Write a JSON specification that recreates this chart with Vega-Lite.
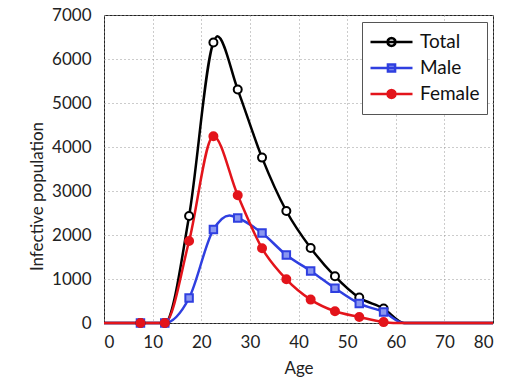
{
  "$schema": "https://vega.github.io/schema/vega-lite/v6.json",
  "width": 389,
  "height": 308,
  "autosize": "none",
  "padding": {"left": 104, "top": 15, "right": 24, "bottom": 54},
  "background": "white",
  "config": {
    "font": "Lato",
    "view": {"stroke": "#222", "strokeWidth": 1}
  },
  "data": {
    "values": [
      {"series": "Total", "age": 0, "value": 0, "marker": false},
      {"series": "Total", "age": 7.5, "value": 0, "marker": true},
      {"series": "Total", "age": 12.5, "value": 0, "marker": true},
      {"series": "Total", "age": 17.5, "value": 2432, "marker": true},
      {"series": "Total", "age": 22.5, "value": 6373, "marker": true},
      {"series": "Total", "age": 23.3, "value": 6516, "marker": false},
      {"series": "Total", "age": 27.5, "value": 5305, "marker": true},
      {"series": "Total", "age": 32.5, "value": 3759, "marker": true},
      {"series": "Total", "age": 37.5, "value": 2545, "marker": true},
      {"series": "Total", "age": 42.5, "value": 1705, "marker": true},
      {"series": "Total", "age": 47.5, "value": 1061, "marker": true},
      {"series": "Total", "age": 52.5, "value": 577, "marker": true},
      {"series": "Total", "age": 57.5, "value": 327, "marker": true},
      {"series": "Total", "age": 61.7, "value": 0, "marker": false},
      {"series": "Total", "age": 80, "value": 0, "marker": false},
      {"series": "Male", "age": 0, "value": 0, "marker": false},
      {"series": "Male", "age": 7.5, "value": 0, "marker": true},
      {"series": "Male", "age": 12.5, "value": 0, "marker": true},
      {"series": "Male", "age": 17.5, "value": 568, "marker": true},
      {"series": "Male", "age": 22.5, "value": 2123, "marker": true},
      {"series": "Male", "age": 25.8, "value": 2445, "marker": false},
      {"series": "Male", "age": 27.5, "value": 2386, "marker": true},
      {"series": "Male", "age": 32.5, "value": 2045, "marker": true},
      {"series": "Male", "age": 37.5, "value": 1545, "marker": true},
      {"series": "Male", "age": 42.5, "value": 1182, "marker": true},
      {"series": "Male", "age": 47.5, "value": 789, "marker": true},
      {"series": "Male", "age": 52.5, "value": 441, "marker": true},
      {"series": "Male", "age": 57.5, "value": 250, "marker": true},
      {"series": "Male", "age": 61.7, "value": 0, "marker": false},
      {"series": "Male", "age": 80, "value": 0, "marker": false},
      {"series": "Female", "age": 0, "value": 0, "marker": false},
      {"series": "Female", "age": 7.5, "value": 0, "marker": true},
      {"series": "Female", "age": 12.5, "value": 0, "marker": true},
      {"series": "Female", "age": 17.5, "value": 1864, "marker": true},
      {"series": "Female", "age": 22.5, "value": 4243, "marker": true},
      {"series": "Female", "age": 27.5, "value": 2902, "marker": true},
      {"series": "Female", "age": 32.5, "value": 1698, "marker": true},
      {"series": "Female", "age": 37.5, "value": 993, "marker": true},
      {"series": "Female", "age": 42.5, "value": 532, "marker": true},
      {"series": "Female", "age": 47.5, "value": 266, "marker": true},
      {"series": "Female", "age": 52.5, "value": 136, "marker": true},
      {"series": "Female", "age": 57.5, "value": 20, "marker": true},
      {"series": "Female", "age": 59.5, "value": 0, "marker": false},
      {"series": "Female", "age": 80, "value": 0, "marker": false}
    ]
  },
  "encoding": {
    "x": {
      "field": "age", "type": "quantitative",
      "scale": {"domain": [0, 80], "nice": false, "zero": false},
      "axis": {
        "title": "Age", "values": [0, 10, 20, 30, 40, 50, 60, 70, 80], "format": "d",
        "grid": true, "gridDash": [1, 3], "gridColor": "#999", "gridWidth": 1,
        "domain": false, "ticks": false,
        "labelFontSize": 17, "labelColor": "#222", "labelPadding": 11,
        "titleFontSize": 17, "titleFontWeight": "normal", "titleColor": "#222", "titlePadding": 10
      }
    },
    "y": {
      "field": "value", "type": "quantitative",
      "scale": {"domain": [0, 7000], "nice": false},
      "axis": {
        "title": "Infective population", "values": [0, 1000, 2000, 3000, 4000, 5000, 6000, 7000], "format": "d",
        "grid": true, "gridDash": [1, 3], "gridColor": "#999", "gridWidth": 1,
        "domain": false, "ticks": false,
        "labelFontSize": 17, "labelColor": "#222", "labelPadding": 13,
        "titleFontSize": 17, "titleFontWeight": "normal", "titleColor": "#222",
        "titleX": -58, "titleY": 181
      }
    },
    "color": {
      "field": "series", "type": "nominal",
      "scale": {"domain": ["Total", "Male", "Female"], "range": ["#000000", "#2f3fe0", "#e3141b"]},
      "legend": {
        "title": null, "orient": "none", "legendX": 258, "legendY": 7,
        "direction": "vertical",
        "labelFontSize": 19, "labelColor": "#111", "labelOffset": 6, "labelFont": "Lato",
        "symbolSize": 1764, "symbolStrokeWidth": 2.5, "clipHeight": 26, "rowPadding": 0,
        "padding": 7, "strokeColor": "#555", "fillColor": "white",
        "encode": {
          "symbols": {
            "update": {
              "shape": {"signal": "datum.value === 'Male' ? 'M-1,0L1,0M-0.17,-0.17L0.17,-0.17L0.17,0.17L-0.17,0.17Z' : 'M-1,0L1,0M0.19,0L0.165,0.095L0.095,0.165L0,0.19L-0.095,0.165L-0.165,0.095L-0.19,0L-0.165,-0.095L-0.095,-0.165L0,-0.19L0.095,-0.165L0.165,-0.095Z'"},
              "fill": {"signal": "datum.value === 'Female' ? '#e3141b' : datum.value === 'Male' ? '#8a97f0' : 'white'"},
              "strokeWidth": {"value": 2.5}
            }
          }
        }
      }
    }
  },
  "layer": [
    {
      "mark": {"type": "line", "interpolate": "monotone", "strokeWidth": 2.5}
    },
    {
      "transform": [{"filter": "datum.marker && datum.series === 'Total'"}],
      "mark": {"type": "point", "shape": "circle", "filled": false, "fill": "white", "size": 64, "strokeWidth": 2, "opacity": 1}
    },
    {
      "transform": [{"filter": "datum.marker && datum.series === 'Male'"}],
      "mark": {"type": "point", "shape": "square", "filled": false, "fill": "#8a97f0", "size": 56, "strokeWidth": 2, "opacity": 1}
    },
    {
      "transform": [{"filter": "datum.marker && datum.series === 'Female'"}],
      "mark": {"type": "point", "shape": "circle", "filled": false, "fill": "#e3141b", "size": 64, "strokeWidth": 2, "opacity": 1}
    }
  ]
}
